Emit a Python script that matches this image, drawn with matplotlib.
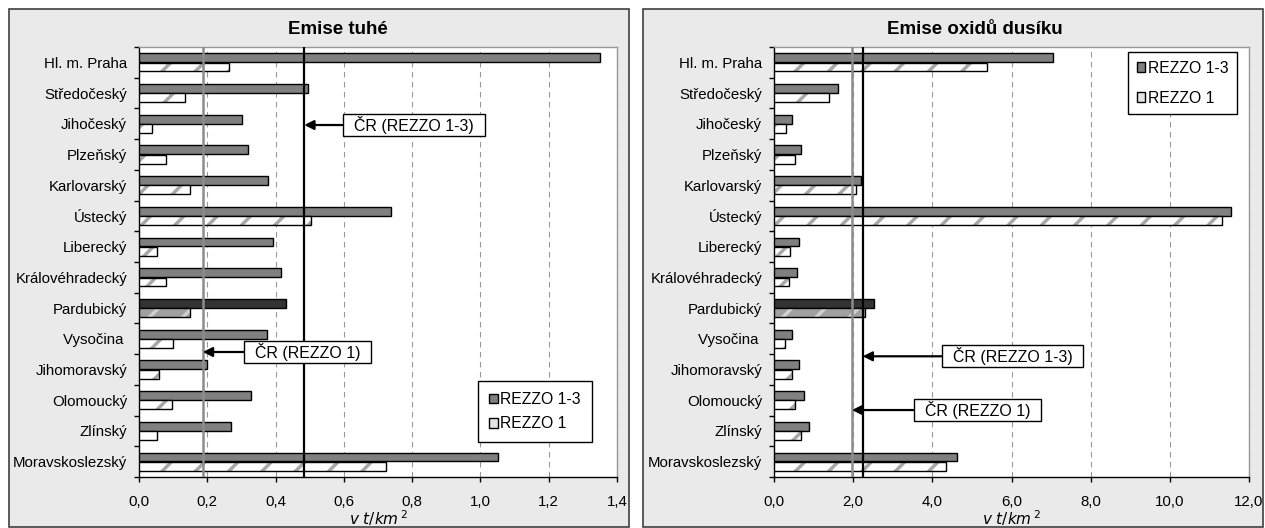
import matplotlib
matplotlib.use("Agg")
import matplotlib.pyplot as plt
import matplotlib.patches as patches
from matplotlib.ticker import FuncFormatter, FixedLocator

plt.rcParams['font.family'] = ['Liberation Sans', 'DejaVu Sans']
plt.rcParams['hatch.linewidth'] = 2.5

# Kraje, shora dolů
regions = ['Hl. m. Praha', 'Středočeský', 'Jihočeský', 'Plzeňský', 'Karlovarský',
           'Ústecký', 'Liberecký', 'Královéhradecký', 'Pardubický', 'Vysočina ',
           'Jihomoravský', 'Olomoucký', 'Zlínský', 'Moravskoslezský']

# Emise tuhé [t/km2]
tzl_rezzo13 = [1.35, 0.495, 0.302, 0.32, 0.379, 0.737, 0.392, 0.415, 0.431, 0.376,
               0.198, 0.329, 0.27, 1.052]
tzl_rezzo1 = [0.263, 0.135, 0.039, 0.08, 0.15, 0.503, 0.052, 0.078, 0.148, 0.099,
              0.058, 0.098, 0.053, 0.722]
tzl_cr13 = 0.484
tzl_cr1 = 0.187

# Emise oxidů dusíku [t/km2]
nox_rezzo13 = [7.05, 1.62, 0.45, 0.68, 2.2, 11.54, 0.64, 0.58, 2.52, 0.45,
               0.63, 0.76, 0.88, 4.62]
nox_rezzo1 = [5.38, 1.39, 0.30, 0.53, 2.06, 11.33, 0.40, 0.38, 2.30, 0.28,
              0.45, 0.54, 0.68, 4.35]
nox_cr13 = 2.24
nox_cr1 = 1.97

highlight = 'Pardubický'

W, H = 1265, 528
fig = plt.figure(figsize=(W / 100, H / 100), dpi=100)
fig.patch.set_facecolor('white')


def px_box(x0, y0, x1, y1):
    """Figure-fraction rectangle from pixel corners (top-left origin)."""
    return [x0 / W, 1 - y1 / H, (x1 - x0) / W, (y1 - y0) / H]


def comma_fmt(decimals):
    return FuncFormatter(lambda v, p: f"{v:.{decimals}f}".replace('.', ','))


def draw_panel(rect, ax_rect, title, title_x, v13, v1, cr13, cr1, xmax, xstep,
               note13, note1, leg_xy):
    # šedé pozadí panelu s rámečkem
    x0, y0, x1, y1 = rect
    fig.patches.append(patches.Rectangle((x0 / W, 1 - y1 / H), (x1 - x0) / W, (y1 - y0) / H,
                                         transform=fig.transFigure, facecolor='#eaeaea',
                                         edgecolor='#404040', linewidth=1.2, zorder=-5))
    fig.text(title_x / W, 1 - 29 / H, title, ha='center', va='center',
             fontsize=13.5, fontweight='bold')

    ax = fig.add_axes(px_box(*ax_rect))
    ax.set_facecolor('white')
    n = len(regions)
    ys = list(range(n))
    h = 0.29
    off = 0.15

    fc13 = ['#333333' if r == highlight else '#808080' for r in regions]
    fc1 = ['#a0a0a0' if r == highlight else 'white' for r in regions]
    hc1 = ['#d0d0d0' if r == highlight else '#a8a8a8' for r in regions]

    ax.barh([y - off for y in ys], v13, height=h, color=fc13, edgecolor='black',
            linewidth=1.0, zorder=3)
    # šrafované sloupce: nejdřív výplň se šrafou, pak černý obrys
    ax.barh([y + off for y in ys], v1, height=h, color=fc1, edgecolor=hc1,
            hatch='/', linewidth=0, zorder=3)
    ax.barh([y + off for y in ys], v1, height=h, fill=False, edgecolor='black',
            linewidth=1.0, zorder=4)

    ax.axvline(cr1, color='#8c8c8c', linewidth=1.8, zorder=5)
    ax.axvline(cr13, color='black', linewidth=1.6, zorder=5)

    ax.set_xlim(0, xmax)
    ax.set_ylim(n - 0.5, -0.5)
    ax.set_xticks([i * xstep for i in range(int(round(xmax / xstep)) + 1)])
    ax.xaxis.set_major_formatter(comma_fmt(1))
    ax.set_yticks(ys)
    ax.set_yticklabels(regions)
    ax.yaxis.set_minor_locator(FixedLocator([y - 0.5 for y in range(n + 1)]))
    ax.tick_params(axis='y', which='major', length=0, pad=8.6, labelsize=10.8)
    ax.tick_params(axis='y', which='minor', length=3.5, width=1.0, direction='out')
    ax.tick_params(axis='x', length=3.5, width=1.0, direction='out', pad=9.8,
                   labelsize=10.8)

    ax.grid(axis='x', color='#999999', linestyle=(0, (5, 4)), linewidth=0.8, zorder=1)
    ax.set_axisbelow(True)
    for side in ('top', 'right'):
        ax.spines[side].set_color('#999999')
        ax.spines[side].set_linewidth(1.0)
    for side in ('left', 'bottom'):
        ax.spines[side].set_color('black')
        ax.spines[side].set_linewidth(1.0)

    ax.set_xlabel(r'$\mathit{v\ t/km}^{\,2}$', fontsize=11, labelpad=-1)

    box = dict(boxstyle='square,pad=0.12', facecolor='white', edgecolor='black',
               linewidth=1.0)
    arrow = dict(arrowstyle='-|>', color='black', linewidth=1.6, mutation_scale=14,
                 shrinkA=0, shrinkB=0)
    for (tx, ty, label), tip in ((note13, cr13), (note1, cr1)):
        ax.annotate('  ' + label + '  ', xy=(tip, ty), xytext=(tx, ty),
                    textcoords='data', ha='left', va='center', fontsize=11.5,
                    bbox=box, arrowprops=arrow, zorder=6)

    handles = [patches.Patch(facecolor='#808080', edgecolor='black', linewidth=1.0,
                             label='REZZO 1-3'),
               patches.Patch(facecolor='#e4e4e4', edgecolor='black', linewidth=1.0,
                             label='REZZO 1')]
    leg = ax.legend(handles=handles, loc='upper left',
                    bbox_to_anchor=(leg_xy[0] / W, 1 - leg_xy[1] / H),
                    bbox_transform=fig.transFigure, borderaxespad=0,
                    fontsize=11.3, frameon=True, fancybox=False, framealpha=1,
                    edgecolor='black', handlelength=0.55, handleheight=0.55,
                    handletextpad=0.15, labelspacing=leg_xy[2], borderpad=leg_xy[3])
    leg.get_frame().set_linewidth(1.0)
    leg.set_zorder(7)
    return ax


draw_panel((9, 9, 629, 527), (139, 47, 617, 477), 'Emise tuhé', 338,
           tzl_rezzo13, tzl_rezzo1, tzl_cr13, tzl_cr1, 1.4, 0.2,
           (0.603, 2.04, 'ČR (REZZO 1-3)'), (0.313, 9.43, 'ČR (REZZO 1)'),
           (478, 381, 0.6, 0.7))
draw_panel((643, 9, 1263, 527), (774, 47, 1249, 477), 'Emise oxidů dusíku', 975,
           nox_rezzo13, nox_rezzo1, nox_cr13, nox_cr1, 12.0, 2.0,
           (4.29, 9.57, 'ČR (REZZO 1-3)'), (3.58, 11.32, 'ČR (REZZO 1)'),
           (1128, 52, 0.95, 0.55))

fig.savefig('out.png', dpi=100)
